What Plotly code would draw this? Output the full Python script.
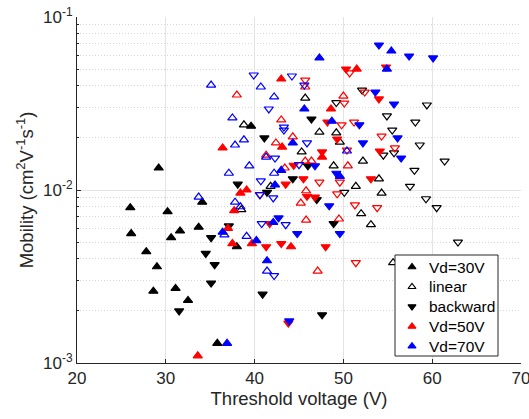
import plotly.graph_objects as go

# ---- data (threshold voltage V, mobility cm2/Vs) ----
# Vd=30V forward (black filled up)
k_fwd_x = [26.0, 26.1, 27.8, 29.0, 28.6, 30.2, 30.6, 31.6, 31.1, 32.5, 33.7, 34.1, 35.8, 38.0, 29.2, 39.6]
k_fwd_y = [0.0079, 0.0056, 0.0044, 0.0036, 0.0026, 0.0075, 0.0053, 0.0058, 0.0027, 0.0023, 0.0061, 0.0085, 0.0013, 0.0047, 0.0134, 0.0234]
# Vd=30V linear (black open up)
k_lin_x = [38.8, 38.5, 45.7, 47.3, 49.2, 49.6, 45.3, 48.9, 41.8, 52.2, 54.0, 51.4, 54.3, 52.0, 53.1, 55.6]
k_lin_y = [0.0238, 0.0077, 0.034, 0.0216, 0.0214, 0.0189, 0.0166, 0.0138, 0.0105, 0.0147, 0.0116, 0.0105, 0.0096, 0.0073, 0.0063, 0.0038]
# Vd=30V backward (black filled down)
k_bwd_x = [38.1, 37.1, 35.1, 34.5, 35.5, 35.1, 31.5, 41.1, 46.4, 46.0, 44.3, 41.4, 47.0, 48.9, 40.9, 47.6]
k_bwd_y = [0.0108, 0.0062, 0.0053, 0.0043, 0.0037, 0.0029, 0.0020, 0.020, 0.0257, 0.0138, 0.0116, 0.0097, 0.0088, 0.0064, 0.0025, 0.0019]
# Vd=30V backward linear (black open down)
k_bl_x = [49.2, 52.1, 54.9, 58.1, 59.4, 55.5, 58.6, 54.5, 55.7, 61.4, 58.0, 57.5, 50.1, 59.3, 60.5, 62.9]
k_bl_y = [0.032, 0.0378, 0.0268, 0.0247, 0.031, 0.0222, 0.0182, 0.0159, 0.0164, 0.0147, 0.013, 0.0105, 0.0097, 0.0089, 0.0079, 0.0050]

# Vd=50V (red)
r_fwd_x = [36.4, 43.0, 51.5, 48.6, 43.1, 47.6, 38.4, 39.1, 37.0, 37.5, 39.7, 37.7, 44.1, 33.6]
r_fwd_y = [0.0175, 0.0438, 0.050, 0.0294, 0.0177, 0.0155, 0.0096, 0.010, 0.0060, 0.0049, 0.0049, 0.0076, 0.0047, 0.0011]
r_lin_x = [38.0, 45.7, 50.0, 43.0, 44.3, 42.4, 41.3, 45.7, 46.4, 43.4, 50.5, 45.8, 45.2, 45.8, 49.5, 47.1]
r_lin_y = [0.0354, 0.0394, 0.0349, 0.0254, 0.0203, 0.0187, 0.0159, 0.0147, 0.0147, 0.0134, 0.0138, 0.0099, 0.0084, 0.0067, 0.0068, 0.0034]
r_bwd_x = [50.3, 54.8, 54.0, 48.2, 49.3, 54.1, 47.6, 44.4, 53.1, 43.5, 45.5, 45.9, 46.8, 41.7, 41.3, 43.0, 48.0, 43.8]
r_bwd_y = [0.050, 0.0514, 0.0336, 0.0247, 0.0197, 0.0168, 0.0166, 0.0139, 0.0116, 0.0108, 0.0116, 0.0092, 0.0091, 0.0064, 0.0047, 0.0049, 0.0047, 0.0017]
r_bl_x = [50.7, 45.7, 52.4, 50.1, 49.8, 51.2, 54.3, 55.8, 47.3, 49.6, 49.3, 40.6, 51.3, 53.8, 51.4, 50.4]
r_bl_y = [0.0475, 0.0432, 0.0368, 0.0318, 0.0238, 0.0247, 0.0205, 0.0175, 0.0111, 0.0111, 0.0095, 0.0094, 0.0082, 0.0079, 0.0038, 0.017]

# Vd=70V (blue)
b_fwd_x = [47.3, 55.4, 54.9, 45.6, 48.7, 44.3, 43.0, 42.3, 49.6, 42.1, 36.4, 40.2, 41.4, 36.9]
b_fwd_y = [0.058, 0.0636, 0.050, 0.0294, 0.025, 0.0187, 0.013, 0.0107, 0.012, 0.0065, 0.0057, 0.0051, 0.0039, 0.0013]
b_lin_x = [35.1, 40.7, 42.2, 37.5, 38.8, 37.8, 39.4, 37.1, 41.3, 42.2, 33.7, 37.8, 38.4, 36.6, 39.1, 41.4, 50.4]
b_lin_y = [0.0404, 0.0394, 0.0345, 0.0261, 0.0195, 0.0182, 0.0138, 0.0125, 0.0155, 0.0125, 0.0091, 0.0085, 0.0080, 0.0055, 0.0054, 0.0034, 0.0168]
b_bwd_x = [54.0, 57.4, 60.1, 53.6, 55.7, 51.8, 56.1, 52.2, 56.5, 46.8, 49.2, 48.4, 42.7, 44.8, 49.6, 43.9]
b_bwd_y = [0.0688, 0.0595, 0.058, 0.0368, 0.0314, 0.0238, 0.020, 0.0187, 0.0153, 0.0138, 0.0125, 0.0081, 0.0069, 0.0056, 0.0056, 0.00175]
b_bl_x = [39.9, 44.2, 45.6, 41.6, 43.3, 43.3, 45.9, 42.3, 45.0, 40.7, 40.6, 42.1, 40.8, 43.5, 42.2]
b_bl_y = [0.0462, 0.0456, 0.0404, 0.0294, 0.0231, 0.0222, 0.0187, 0.0153, 0.014, 0.0113, 0.0094, 0.0090, 0.0064, 0.0063, 0.0032]

x_ticks = [20, 30, 40, 50, 60, 70]
y_ticks = [0.001, 0.01, 0.1]
y_ticktext = ["10<sup>-3</sup>", "10<sup>-2</sup>", "10<sup>-1</sup>"]

legend_labels = ["Vd=30V", "linear", "backward", "Vd=50V", "Vd=70V"]
legend_symbols = ["triangle-up", "triangle-up-open", "triangle-down", "triangle-up", "triangle-up"]
legend_colors = ["#000000", "#000000", "#000000", "#ff0000", "#0000ff"]

FONT = "Liberation Sans, Arial, Helvetica, sans-serif"
TXT = "#262626"
colmap = {"black": "#000000", "red": "#ff0000", "blue": "#0000ff"}

series = [
    (k_fwd_x, k_fwd_y, "black", "triangle-up"),
    (k_lin_x, k_lin_y, "black", "triangle-up-open"),
    (k_bwd_x, k_bwd_y, "black", "triangle-down"),
    (k_bl_x, k_bl_y, "black", "triangle-down-open"),
    (r_fwd_x, r_fwd_y, "red", "triangle-up"),
    (r_lin_x, r_lin_y, "red", "triangle-up-open"),
    (r_bwd_x, r_bwd_y, "red", "triangle-down"),
    (r_bl_x, r_bl_y, "red", "triangle-down-open"),
    (b_fwd_x, b_fwd_y, "blue", "triangle-up"),
    (b_lin_x, b_lin_y, "blue", "triangle-up-open"),
    (b_bwd_x, b_bwd_y, "blue", "triangle-down"),
    (b_bl_x, b_bl_y, "blue", "triangle-down-open"),
]

fig = go.Figure()
for xs, ys, c, sym in series:
    fig.add_trace(go.Scatter(
        x=xs, y=ys, mode="markers", showlegend=False,
        marker=dict(symbol=sym, size=8, color=colmap[c],
                    line=dict(color=colmap[c], width=1.2)),
    ))

# ---- legend drawn on an overlay axis measured in pixels of the plot area ----
L_X0, L_X1, L_Y0, L_Y1 = 395, 498, 255, 356
ROW0, ROW_STEP = 267, 19.8
rows = [ROW0 + i * ROW_STEP for i in range(len(legend_labels))]
fig.add_trace(go.Scatter(
    x=[L_X0, L_X1, L_X1, L_X0, L_X0], y=[L_Y0, L_Y0, L_Y1, L_Y1, L_Y0],
    xaxis="x2", yaxis="y2", mode="lines", fill="toself", fillcolor="white",
    line=dict(color=TXT, width=1), showlegend=False, hoverinfo="skip"))
fig.add_trace(go.Scatter(
    x=[412] * len(rows), y=rows, xaxis="x2", yaxis="y2", mode="markers",
    marker=dict(symbol=legend_symbols, size=7, color=legend_colors,
                line=dict(color=legend_colors, width=1.1)),
    showlegend=False, hoverinfo="skip"))
for lab, yy in zip(legend_labels, rows):
    fig.add_annotation(x=427, y=yy, xref="x2", yref="y2", text=lab,
                       showarrow=False, xanchor="left", yanchor="middle",
                       font=dict(family=FONT, size=15.5, color="#000000"))

grid_c = "#e3e3e3"
minor_vals = [m * 10 ** e for e in (-3, -2) for m in range(2, 10)]

fig.update_layout(
    width=529, height=419,
    margin=dict(l=77, r=8, t=17, b=56, autoexpand=False),
    paper_bgcolor="white", plot_bgcolor="white",
    font=dict(family=FONT, size=17, color=TXT),
    showlegend=False,
    xaxis=dict(range=[20, 70], tickvals=x_ticks, ticks="inside", ticklen=4,
               tickcolor=TXT, showline=True, linecolor=TXT, linewidth=1,
               mirror=False, showgrid=True, gridcolor=grid_c, gridwidth=1,
               zeroline=False, ticklabeloverflow="allow", automargin=False,
               title=dict(text="Threshold voltage (V)", font=dict(size=18.5), standoff=4),
               tickfont=dict(size=17)),
    yaxis=dict(type="log", range=[-3, -1], tickvals=y_ticks, ticktext=y_ticktext,
               ticks="inside", ticklen=4, tickcolor=TXT, showline=True,
               linecolor=TXT, linewidth=1, mirror=False, showgrid=True,
               gridcolor=grid_c, gridwidth=1, zeroline=False,
               ticklabeloverflow="allow", automargin=False,
               minor=dict(tickvals=minor_vals, ticks="inside", ticklen=2,
                          tickcolor=TXT, showgrid=True, gridcolor="#d6d6d6",
                          griddash="1px,2px", gridwidth=1),
               title=dict(text="Mobility (cm<sup>2</sup>V<sup>-1</sup>s<sup>-1</sup>)",
                          font=dict(size=18.5), standoff=4),
               tickfont=dict(size=17)),
    xaxis2=dict(overlaying="x", range=[77, 521], visible=False, fixedrange=True),
    yaxis2=dict(overlaying="y", range=[363, 17], visible=False, fixedrange=True),
)

fig.write_html("out.html")
